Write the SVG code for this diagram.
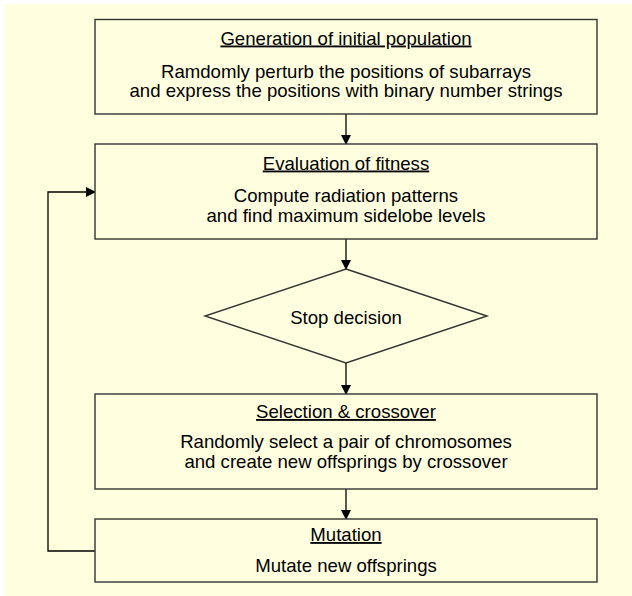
<svg xmlns="http://www.w3.org/2000/svg" width="632" height="596" viewBox="0 0 632 596">
<style>
.box{fill:#FFFFE0;stroke:#333;stroke-width:1.4}
.t{font-family:"Liberation Sans",Arial,sans-serif;font-size:18.6px;fill:#000;text-anchor:middle}
.u{text-decoration:underline}
.c{fill:none;stroke:#000;stroke-width:1.3}
</style>
<defs>
<marker id="ah" markerWidth="10" markerHeight="10" refX="9" refY="5" orient="auto" markerUnits="userSpaceOnUse">
<path d="M0,0 L10,5 L0,10 Z" fill="#000"/>
</marker>
</defs>
<rect x="0" y="0" width="632" height="596" fill="#fff"/>
<rect x="5" y="4" width="627" height="592" fill="#FFFFE0"/>
<g id="connectors">
<line class="c" x1="346" y1="114" x2="346" y2="144" marker-end="url(#ah)"/>
<line class="c" x1="346" y1="239" x2="346" y2="269" marker-end="url(#ah)"/>
<line class="c" x1="346" y1="363" x2="346" y2="394" marker-end="url(#ah)"/>
<line class="c" x1="346" y1="489" x2="346" y2="519" marker-end="url(#ah)"/>
<polyline class="c" points="95,551 48,551 48,192 95,192" marker-end="url(#ah)"/>
</g>
<g id="gen">
<rect class="box" x="95" y="19.5" width="502" height="94.5"/>
<text class="t u" x="346" y="44.5">Generation of initial population</text>
<text class="t" x="346" y="77.5">Ramdomly perturb the positions of subarrays</text>
<text class="t" x="346" y="97">and express the positions with binary number strings</text>
</g>
<g id="eval">
<rect class="box" x="95" y="144" width="502" height="95"/>
<text class="t u" x="346" y="169.5">Evaluation of fitness</text>
<text class="t" x="346" y="201.5">Compute radiation patterns</text>
<text class="t" x="346" y="221.5">and find maximum sidelobe levels</text>
</g>
<g id="stop">
<polygon class="box" points="346,269 487,316 346,363 205,316"/>
<text class="t" x="346" y="323.5">Stop decision</text>
</g>
<g id="sel">
<rect class="box" x="95" y="394" width="502" height="95"/>
<text class="t u" x="346" y="418">Selection &amp; crossover</text>
<text class="t" x="346" y="447.5">Randomly select a pair of chromosomes</text>
<text class="t" x="346" y="467.5">and create new offsprings by crossover</text>
</g>
<g id="mut">
<rect class="box" x="95" y="519" width="502" height="63"/>
<text class="t u" x="346" y="541">Mutation</text>
<text class="t" x="346" y="572">Mutate new offsprings</text>
</g>
</svg>
